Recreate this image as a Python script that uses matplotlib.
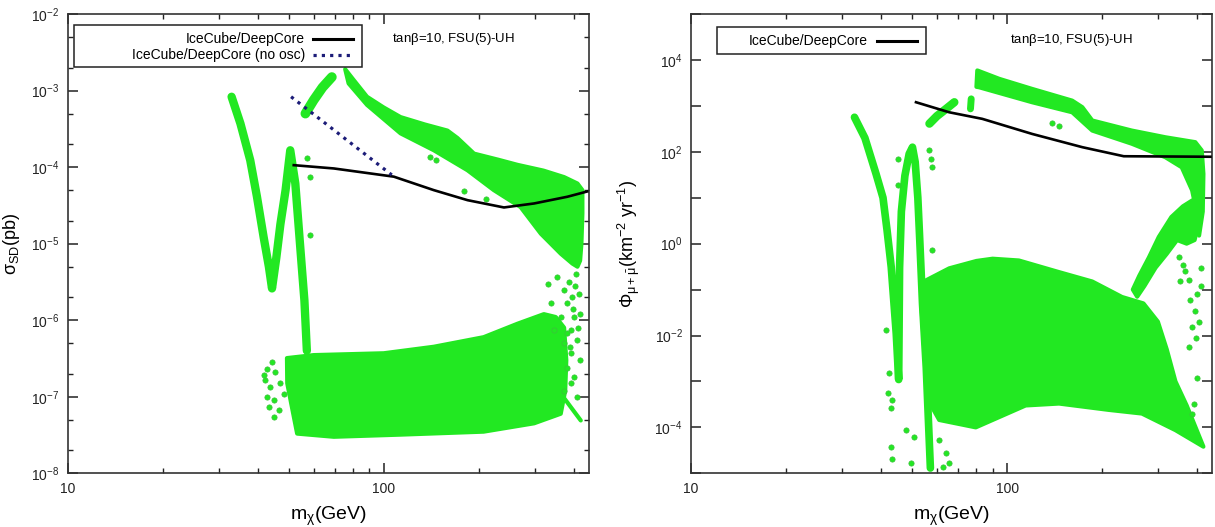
import matplotlib
matplotlib.use("Agg")
import matplotlib.pyplot as plt
from matplotlib.ticker import LogLocator, FuncFormatter, NullFormatter, NullLocator
from matplotlib.lines import Line2D
from matplotlib.patches import Rectangle
import numpy as np

plt.rcParams['font.family'] = ['Liberation Sans', 'DejaVu Sans']
plt.rcParams['mathtext.fontset'] = 'custom'
plt.rcParams['mathtext.rm'] = 'Liberation Sans'
plt.rcParams['mathtext.it'] = 'Liberation Sans:italic'
plt.rcParams['mathtext.bf'] = 'Liberation Sans:bold'

GREEN = '#22e822'

# ---------------- left panel: sigma_SD ----------------
# V shaped band (centre line)
l_v_x = [33.0, 35.2, 37.8, 39.7, 41.7, 43.3, 44.3, 45.7, 47.1, 48.9, 50.6, 52.5, 54.5, 56.1, 57.1]
l_v_y = [8.3e-4, 3.7e-4, 1.23e-4, 4.1e-5, 1.2e-5, 5e-6, 2.6e-6, 6.5e-6, 1.8e-5, 5e-5, 1.66e-4, 6.1e-5, 8.3e-6, 1.8e-6, 4e-7]
# short band near 60 GeV
l_s_x = [56.5, 60, 64, 68.5]
l_s_y = [5e-4, 7.5e-4, 1.1e-3, 1.5e-3]
# upper band outline
l_up_x = [75.5, 80, 88.5, 100, 113, 135, 159, 171, 193, 230, 265, 320, 372, 410, 425,
          425, 422, 418, 410, 395, 363, 314, 271, 223, 184, 144, 113, 88.5, 77.4]
l_up_y = [1.9e-3, 1.4e-3, 8.3e-4, 6e-4, 4.5e-4, 3.6e-4, 3e-4, 2.4e-4, 1.5e-4, 1.25e-4, 1.07e-4, 9e-5, 7.4e-5, 6.1e-5, 5e-5,
          2.5e-5, 1e-5, 6e-6, 5e-6, 5.5e-6, 7.4e-6, 1.35e-5, 3e-5, 5e-5, 9.1e-5, 1.66e-4, 2.76e-4, 6.5e-4, 1.24e-3]
# lower blob outline
l_bl_x = [49.4, 60, 100, 144, 207, 265, 321, 350, 372, 378, 375, 363, 299, 207, 113, 69.5, 53.2, 51, 49.5]
l_bl_y = [3.2e-7, 3.5e-7, 3.7e-7, 4.5e-7, 6e-7, 9e-7, 1.2e-6, 1.1e-6, 8e-7, 3e-7, 1.2e-7, 6e-8, 4.5e-8, 3.5e-8, 3.2e-8, 3e-8, 3.3e-8, 8e-8, 1.5e-7]
l_streak_x = [363, 420]
l_streak_y = [1.1e-7, 4.9e-8]
# scattered points
l_pt_x = [44.3, 42.8, 45.3, 42.2, 43.7, 47.1, 42.8, 44.8, 43.2, 48.2, 46.5, 41.7, 45.0,
          57.3, 58.5, 58.5, 140, 146, 179, 210,
          330, 354, 372, 381, 337, 400, 363, 391, 346, 372, 381, 391, 381, 400, 372, 410,
          405, 415, 398, 412, 388, 418, 395, 408, 385, 402, 417, 392]
l_pt_y = [2.85e-7, 2.3e-7, 2.1e-7, 1.65e-7, 1.35e-7, 1.5e-7, 1e-7, 9e-8, 7.3e-8, 1.1e-7, 6.8e-8, 1.9e-7, 5.5e-8,
          1.3e-4, 7.4e-5, 1.3e-5, 1.34e-4, 1.23e-4, 4.9e-5, 3.8e-5,
          3e-6, 3.7e-6, 2.5e-6, 1.66e-6, 1.66e-6, 1.1e-6, 1.1e-6, 7.4e-7, 7.4e-7, 5e-7, 6.8e-7, 3.7e-7, 2.4e-7, 1.8e-7, 1.2e-7, 1e-7,
          4e-6, 2.2e-6, 1.4e-6, 8e-7, 4.5e-7, 3e-7, 2e-6, 5.5e-7, 3.2e-6, 2.8e-6, 1.2e-6, 1.5e-7]
# IceCube/DeepCore limits
l_ic_x = [51.9, 69.5, 107.6, 144, 184, 240, 299, 381, 440]
l_ic_y = [1.06e-4, 9.6e-5, 7.5e-5, 5e-5, 3.7e-5, 2.97e-5, 3.35e-5, 4.1e-5, 4.8e-5]
l_no_x = [50.9, 106]
l_no_y = [8.3e-4, 7.9e-5]

# ---------------- right panel: muon flux ----------------
r_v_x = [32.9, 35.5, 38.5, 40.5, 41.7, 43.0, 44.6, 45.4, 45.7, 46.3, 47.5, 49.0, 50.2, 51.2, 52.2, 53.0, 54.0, 55.5, 56.5, 57.2]
r_v_y = [565, 200, 33, 10, 2, 0.31, 0.011, 1.1e-3, 0.3, 5, 30, 90, 126, 60, 10, 1, 0.05, 2e-3, 1e-4, 1.3e-5]
r_s_x = [56.8, 60, 64, 68.1]
r_s_y = [410, 600, 850, 1200]
r_c_x = [76.6, 77.0]
r_c_y = [860, 1420]
r_up_x = [80, 80.5, 94.5, 120, 160.7, 173, 186, 248, 317, 394, 413,
          418, 416, 405, 398, 392, 385, 357, 317, 248, 186, 160.7, 120, 81.6]
r_up_y = [2600, 5900, 3870, 2340, 1300, 935, 480, 290, 207, 162, 107,
          33, 5, 1.5, 2.3, 8, 14.5, 46, 76, 150, 290, 725, 1200, 2540]
r_bl_x = [53.5, 55.5, 65.6, 80, 90, 109, 146, 186, 231, 270, 300, 320, 341, 370, 418,
          341, 267, 210, 146, 114.5, 79.6, 61, 57.5, 55]
r_bl_y = [0.05, 0.16, 0.29, 0.42, 0.47, 0.43, 0.24, 0.15, 0.069, 0.05, 0.02, 5e-3, 1e-3, 3e-4, 3.8e-5,
          8.7e-5, 2e-4, 2.4e-4, 3.3e-4, 3e-4, 1e-4, 1.45e-4, 3e-4, 3e-3]
# rising plume on the right of the blob
r_pl_x = [250, 262, 281, 302, 331, 360, 385, 400, 405, 392, 370, 345, 320, 295, 272, 258]
r_pl_y = [0.1, 0.2, 0.5, 1.4, 3.8, 6.5, 8.7, 8, 3, 1.2, 1.0, 1.2, 0.6, 0.3, 0.12, 0.07]
r_pt_x = [41.4, 42.4, 41.9, 43.4, 42.9, 42.9, 43.4, 47.9, 50.9, 49.6, 61, 64, 65.6, 62.5, 58, 45.1, 45.1, 56.8, 57.5, 58,
          139, 146, 349, 366, 375, 394, 385, 375, 390, 385, 400, 405, 398, 410, 360, 380, 395, 412, 352]
r_pt_y = [0.013, 1.5e-3, 5.5e-4, 3.9e-4, 2.6e-4, 3.8e-5, 2.1e-5, 8.7e-5, 6.3e-5, 1.7e-5, 5.3e-5, 2.7e-5, 1.7e-5, 1.4e-5, 0.72, 70.6, 18.6, 107, 70.6, 46,
          417, 372, 0.51, 0.26, 0.16, 0.035, 0.015, 5.6e-3, 3.3e-4, 2e-4, 0.08, 0.02, 1.2e-3, 0.3, 0.35, 0.06, 0.009, 0.12, 0.15]
r_ic_x = [51.5, 65.6, 83.5, 120, 173, 234, 440]
r_ic_y = [1200, 725, 521, 245, 126, 80, 78]

W, H = 1215, 527
fig = plt.figure(figsize=(W / 100, H / 100), dpi=100)
ax1 = fig.add_axes([67.7 / W, (H - 473.3) / H, 521 / W, 459.3 / H])
ax2 = fig.add_axes([691 / W, (H - 473.3) / H, 521 / W, 459.3 / H])


def draw_green(ax, bands, polys, pts_x, pts_y):
    for (bx, by, lw) in bands:
        ax.plot(bx, by, color=GREEN, lw=lw, solid_capstyle='round', solid_joinstyle='round', zorder=2)
    for (px, py) in polys:
        ax.fill(px, py, color=GREEN, lw=3, ec=GREEN, joinstyle='round', zorder=2)
    ax.plot(pts_x, pts_y, 'o', color=GREEN, ms=3.8, mec='#3cbf3c', mew=0.5, ls='none', zorder=2)


draw_green(ax1,
           [(l_v_x, l_v_y, 6.0), (l_s_x, l_s_y, 7.0), (l_streak_x, l_streak_y, 3)],
           [(l_up_x, l_up_y), (l_bl_x, l_bl_y)], l_pt_x, l_pt_y)
ax1.plot(l_ic_x, l_ic_y, color='black', lw=1.9, zorder=3)
ax1.plot(l_no_x, l_no_y, color='#1c1c78', lw=2.3, ls=(0, (1, 1.6)), zorder=3)

draw_green(ax2,
           [(r_v_x, r_v_y, 5.5), (r_s_x, r_s_y, 6.0), (r_c_x, r_c_y, 5)],
           [(r_up_x, r_up_y), (r_bl_x, r_bl_y), (r_pl_x, r_pl_y)], r_pt_x, r_pt_y)
ax2.plot(r_ic_x, r_ic_y, color='black', lw=1.9, zorder=3)


def style_axes(ax):
    ax.set_xscale('log')
    ax.set_yscale('log')
    ax.set_xlim(10, 445)
    ax.xaxis.set_major_locator(LogLocator(base=10, numticks=10))
    ax.xaxis.set_minor_locator(LogLocator(base=10, subs=np.arange(2, 10), numticks=20))
    ax.xaxis.set_major_formatter(FuncFormatter(lambda v, p: '%d' % round(v)))
    ax.xaxis.set_minor_formatter(NullFormatter())
    ax.tick_params(which='both', direction='in', top=True, right=True, labelsize=10, colors='#222222', pad=6)
    ax.tick_params(which='major', length=7, width=1.1)
    ax.tick_params(which='minor', length=3.5, width=1.0)
    for s in ax.spines.values():
        s.set_linewidth(1.2)
        s.set_color('#333333')
    ax.set_xlabel(r'$\mathrm{m_{\chi}}$(GeV)', fontsize=14)
    ax.xaxis.set_label_coords(0.5, -0.068)


def exp_fmt(v, p):
    e = int(round(np.log10(v)))
    return r'$\mathrm{10^{%d}}$' % e


style_axes(ax1)
ax1.set_ylim(1e-8, 1e-2)
ax1.yaxis.set_major_locator(LogLocator(base=10, numticks=10))
ax1.yaxis.set_minor_locator(LogLocator(base=10, subs=[2, 5], numticks=20))
ax1.yaxis.set_major_formatter(FuncFormatter(exp_fmt))
ax1.yaxis.set_minor_formatter(NullFormatter())
ax1.set_ylabel(r'$\mathrm{\sigma_{SD}}$(pb)', fontsize=13)
ax1.yaxis.set_label_coords(-0.088, 0.5)

style_axes(ax2)
ax2.set_ylim(1e-5, 1e5)
ax2.yaxis.set_major_locator(LogLocator(base=10, numticks=15))
ax2.yaxis.set_minor_locator(NullLocator())
ax2.yaxis.set_major_formatter(FuncFormatter(
    lambda v, p: exp_fmt(v, p) if int(round(np.log10(v))) % 2 == 0 else ''))
ax2.set_ylabel(r'$\mathrm{\Phi_{\mu+\bar{\mu}}(km^{-2}\ yr^{-1})}$', fontsize=13)
ax2.yaxis.set_label_coords(-0.094, 0.5)

# gnuplot style keys
ax1.add_patch(Rectangle((0.012, 0.885), 0.552, 0.091, transform=ax1.transAxes,
                        fill=True, fc='white', ec='#222222', lw=1.1, zorder=4))
ax1.text(0.455, 0.945, 'IceCube/DeepCore', transform=ax1.transAxes, ha='right', va='center', fontsize=10, zorder=5)
ax1.text(0.455, 0.911, 'IceCube/DeepCore (no osc)', transform=ax1.transAxes, ha='right', va='center', fontsize=10, zorder=5)
ax1.add_line(Line2D([0.471, 0.548], [0.945, 0.945], transform=ax1.transAxes, color='black', lw=2.2, zorder=5))
ax1.add_line(Line2D([0.471, 0.548], [0.911, 0.911], transform=ax1.transAxes, color='#1c1c78', lw=2.3,
                    ls=(0, (1, 1.6)), zorder=5))
ax1.text(0.622, 0.945, r'tan$\mathrm{\beta}$=10, FSU(5)-UH', transform=ax1.transAxes, ha='left', va='center', fontsize=9.5)

ax2.add_patch(Rectangle((0.0505, 0.913), 0.4005, 0.059, transform=ax2.transAxes,
                        fill=True, fc='white', ec='#222222', lw=1.1, zorder=4))
ax2.text(0.34, 0.942, 'IceCube/DeepCore', transform=ax2.transAxes, ha='right', va='center', fontsize=10, zorder=5)
ax2.add_line(Line2D([0.357, 0.434], [0.942, 0.942], transform=ax2.transAxes, color='black', lw=2.2, zorder=5))
ax2.text(0.612, 0.943, r'tan$\mathrm{\beta}$=10, FSU(5)-UH', transform=ax2.transAxes, ha='left', va='center', fontsize=9.5)

fig.savefig('out.png', dpi=100)
